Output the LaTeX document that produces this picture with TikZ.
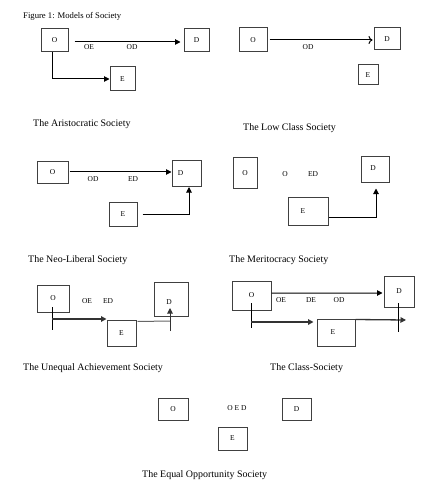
\documentclass[tikz,border=0pt]{standalone}
\usepackage{fontspec}
\setmainfont{Liberation Serif}
\usetikzlibrary{arrows.meta,calc}
\begin{document}
\begin{tikzpicture}[x=1bp,y=-1bp,
 box/.style={draw=black!75,line width=1bp,inner sep=0pt,font=\fontsize{7.5}{8}\selectfont},
 lab/.style={inner sep=0pt,font=\fontsize{7.5}{8}\selectfont},
 captxt/.style={inner sep=0pt,anchor=west,font=\fontsize{10}{12}\selectfont},
 conn/.style={line width=1bp},
 tri/.style={conn,-{Triangle[length=5.5bp,width=5.5bp]}},
 opn/.style={conn,-{To[length=4bp,width=8bp]}}]
\fill[white] (0,0) rectangle (439,493);
\useasboundingbox (0,0) rectangle (439,493);

\node[captxt,font=\fontsize{8.7}{10}\selectfont] (title) at (23,16) {Figure 1: Models of Society};

% Panel 1: Aristocratic
\node[box,minimum width=27bp,minimum height=23bp] (o1) at (54.5,40.5) {O};
\node[box,minimum width=25bp,minimum height=23bp] (d1) at (196.5,40.5) {D};
\node[box,minimum width=25bp,minimum height=24bp] (e1) at (122.5,79) {E};
\draw[tri] ($(o1.east)+(6,1.5)$) -- ($(d1.west)+(-3,1.5)$);
\draw[tri] ($(o1.south)+(-2.5,0)$) |- (e1.west);
\node[lab] (l1a) at (89,47) {OE};
\node[lab] (l1b) at (132,47) {OD};
\node[captxt] (c1) at (33,124) {The Aristocratic Society};

% Panel 2: Low Class
\node[box,minimum width=28bp,minimum height=24bp] (o2) at (253,40) {O};
\node[box,minimum width=26bp,minimum height=22bp] (d2) at (387,39) {D};
\node[box,minimum width=20bp,minimum height=20bp] (e2) at (368,75) {E};
\draw[opn] ($(o2.east)+(2,0)$) -- ($(d2.west)+(-1,1)$);
\node[lab] (l2a) at (308,47) {OD};
\node[captxt] (c2) at (243,128) {The Low Class Society};

% Panel 3: Neo-Liberal
\node[box,minimum width=31bp,minimum height=21bp] (o3) at (52.5,172.5) {O};
\node[box,minimum width=29bp,minimum height=25bp,label={[lab,xshift=-6bp]center:D}] (d3) at (186.5,173.5) {};
\node[box,minimum width=28bp,minimum height=24bp] (e3) at (123,214) {E};
\draw[tri] ($(o3.east)+(1,-0.5)$) -- ($(d3.west)+(0,-1.5)$);
\draw[tri] ($(e3.east)+(5,0)$) -| ($(d3.south)+(2.5,0.5)$);
\node[lab] (l3a) at (93,179) {OD};
\node[lab] (l3b) at (133,179) {ED};
\node[captxt] (c3) at (28,260) {The Neo-Liberal Society};

% Panel 4: Meritocracy
\node[box,minimum width=24bp,minimum height=30bp] (o4) at (245,173) {O};
\node[box,minimum width=28bp,minimum height=25bp,label={[lab,yshift=1bp,xshift=-2bp]center:D}] (d4) at (375,169.5) {};
\node[box,minimum width=40bp,minimum height=28bp,label={[lab,xshift=-5bp]center:E}] (e4) at (308,211) {};
\draw[tri] ($(e4.east)+(0,6)$) -| ($(d4.south)+(1,6)$);
\node[lab] (l4a) at (285,174) {O};
\node[lab] (l4b) at (313,174) {ED};
\node[captxt] (c4) at (229,260) {The Meritocracy Society};

% Panel 5: Unequal Achievement
\node[box,minimum width=32bp,minimum height=27bp] (o5) at (53,298.5) {O};
\node[box,minimum width=34bp,minimum height=34bp,label={[lab,xshift=-2bp,yshift=-3bp]center:D}] (d5) at (171,299) {};
\node[box,minimum width=29bp,minimum height=26bp] (e5) at (121.5,333) {E};
\coordinate (v5a) at (52,307);
\coordinate (v5b) at (52,330);
\coordinate (h5) at (52,319);
\draw[conn] (v5a) -- (v5b);
\draw[tri,black!80,line width=1.3bp] (h5) -- (e5.north west |- h5);
\coordinate (u5a) at (170,331);
\coordinate (u5b) at (170,308);
\draw[conn,black!60] ($(e5.north east)+(1,2)$) -- (u5a |- 0,321);
\draw[tri,black!80] (u5a) -- (u5b);
\node[lab] (l5a) at (87,301) {OE};
\node[lab] (l5b) at (108,301) {ED};
\node[captxt] (c5) at (23,368) {The Unequal Achievement Society};

% Panel 6: Class-Society
\node[box,minimum width=39bp,minimum height=29bp] (o6) at (251.5,295.5) {O};
\node[box,minimum width=30bp,minimum height=31bp] (d6) at (399,291.5) {D};
\node[box,minimum width=38bp,minimum height=27bp,label={[lab,xshift=-3bp]center:E}] (e6) at (336,332.5) {};
\draw[tri] ($(o6.east)+(0,-2.5)$) -- ($(d6.west)+(-1,1.5)$);
\coordinate (v6a) at (251,303);
\coordinate (v6b) at (251,328);
\coordinate (h6) at (251,322);
\draw[conn] (v6a) -- (v6b);
\draw[tri,black!80,line width=1.3bp] (h6) -- ($(e6.west |- h6)+(-3,0)$);
\coordinate (r6) at (406,320);
\draw[tri,black!80,line width=1.3bp] ($(e6.north east)+(0,1)$) -- (r6);
\coordinate (w6a) at (398,303);
\coordinate (w6b) at (398,332);
\draw[conn] (w6a) -- (w6b);
\node[lab] (l6a) at (281,300) {OE};
\node[lab] (l6b) at (311,300) {DE};
\node[lab] (l6c) at (339,300) {OD};
\node[captxt] (c6) at (270,368) {The Class-Society};

% Panel 7: Equal Opportunity
\node[box,minimum width=30bp,minimum height=22bp] (o7) at (173,409) {O};
\node[box,minimum width=29bp,minimum height=22bp] (d7) at (296.5,409) {D};
\node[box,minimum width=29bp,minimum height=23bp] (e7) at (232.5,438.5) {E};
\node[lab] (l7a) at (237,408) {O E D};
\node[captxt] (c7) at (142,475) {The Equal Opportunity Society};
\end{tikzpicture}
\end{document}
